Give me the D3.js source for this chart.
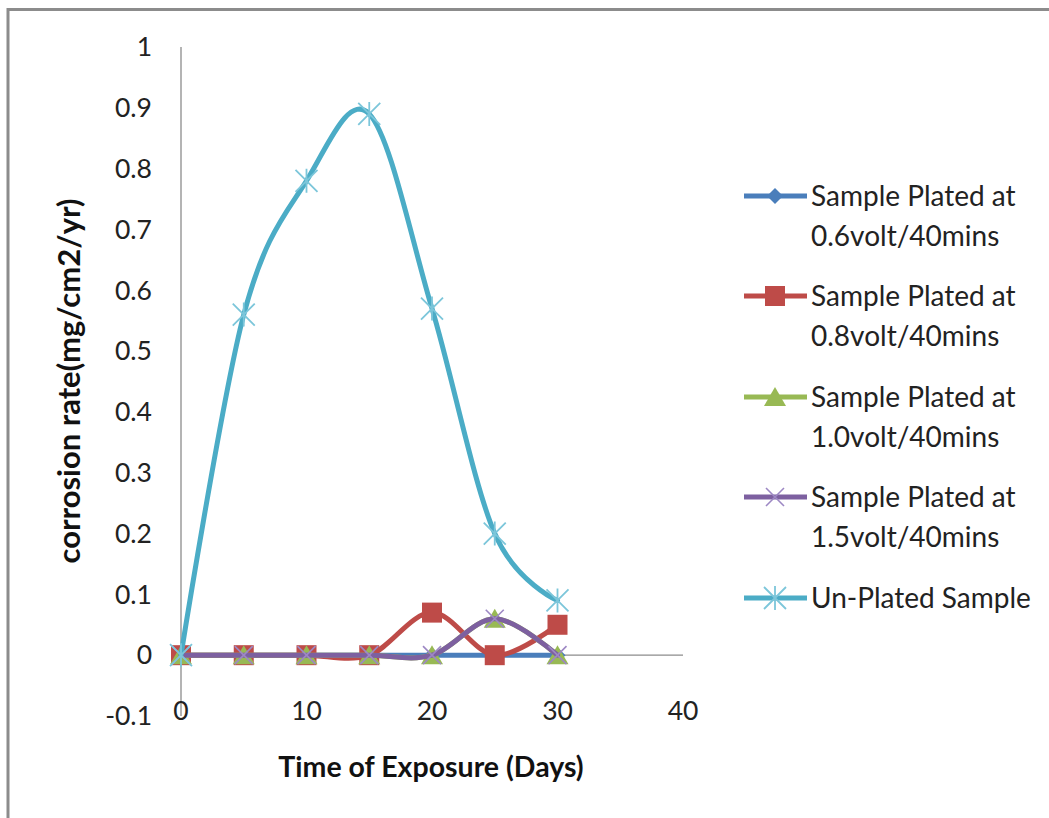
<!DOCTYPE html>
<html><head><meta charset="utf-8">
<script src="https://cdn.jsdelivr.net/npm/d3@7"></script>
<style>
html,body{margin:0;padding:0;background:#fff;}
svg{display:block;font-family:Lato, Carlito, "Open Sans", sans-serif;}
</style></head>
<body><svg id="chart" width="1049" height="818"></svg>
<script>
const days = [0, 5, 10, 15, 20, 25, 30];
const s06 = [0, 0, 0, 0, 0, 0, 0];
const s08 = [0, 0, 0, 0, 0.07, 0, 0.05];
const s10 = [0, 0, 0, 0, 0, 0.06, 0];
const s15 = [0, 0, 0, 0, 0, 0.06, 0];
const unplated = [0, 0.56, 0.78, 0.89, 0.57, 0.2, 0.09];
const xTicks = [0, 10, 20, 30, 40];
const yTicks = [-0.1, 0, 0.1, 0.2, 0.3, 0.4, 0.5, 0.6, 0.7, 0.8, 0.9, 1];
const seriesNames = [
  ["Sample Plated at", "0.6volt/40mins"],
  ["Sample Plated at", "0.8volt/40mins"],
  ["Sample Plated at", "1.0volt/40mins"],
  ["Sample Plated at", "1.5volt/40mins"],
  ["Un-Plated Sample"]
];

const series = [
  {vals: s06, color: "#4A7EBB", marker: "diamond"},
  {vals: s08, color: "#BE4B48", marker: "square"},
  {vals: s10, color: "#98B954", marker: "triangle"},
  {vals: s15, color: "#7D60A0", marker: "x"},
  {vals: unplated, color: "#4BACC6", marker: "star"}
];

const svg = d3.select("#chart");
// chart border (only left and top visible in the frame)
svg.append("rect").attr("x", 8).attr("y", 9.5).attr("width", 1100).attr("height", 900)
  .attr("fill", "#fff").attr("stroke", "#8c8c8c").attr("stroke-width", 3);

const x = d3.scaleLinear().domain([0, 40]).range([181, 683]);
const y = d3.scaleLinear().domain([-0.1, 1]).range([716, 47]);

// axes
svg.append("line").attr("x1", x(0)).attr("x2", x(0)).attr("y1", y(1)).attr("y2", y(-0.1))
  .attr("stroke", "#8c8c8c").attr("stroke-width", 1.3);
svg.append("line").attr("x1", x(0)).attr("x2", x(40)).attr("y1", y(0)).attr("y2", y(0))
  .attr("stroke", "#8c8c8c").attr("stroke-width", 1.3);

const fmt = d => (Math.round(d * 10) / 10).toString();
svg.append("g").selectAll("text").data(yTicks).join("text")
  .attr("x", 152).attr("y", d => y(d)).attr("dy", "0.35em")
  .attr("text-anchor", "end").attr("font-size", 26.5).attr("fill", "#222")
  .text(fmt);
svg.append("g").selectAll("text").data(xTicks).join("text")
  .attr("x", d => x(d)).attr("y", 720)
  .attr("text-anchor", "middle").attr("font-size", 26.5).attr("fill", "#222")
  .text(d => d);

svg.append("text").attr("x", 431).attr("y", 777).attr("text-anchor", "middle")
  .attr("font-size", 28.5).attr("font-weight", "bold").attr("fill", "#111")
  .text("Time of Exposure (Days)");
svg.append("text").attr("transform", "translate(80,381) rotate(-90)").attr("text-anchor", "middle")
  .attr("font-size", 31).attr("font-weight", "bold").attr("fill", "#111")
  .text("corrosion rate(mg/cm2/yr)");

function drawMarker(g, type, color, cx, cy) {
  if (type === "diamond") {
    g.append("path").attr("d", `M${cx},${cy-8}L${cx+8},${cy}L${cx},${cy+8}L${cx-8},${cy}Z`).attr("fill", color);
  } else if (type === "square") {
    g.append("rect").attr("x", cx - 10).attr("y", cy - 10).attr("width", 20).attr("height", 20).attr("fill", color);
  } else if (type === "triangle") {
    g.append("path").attr("d", `M${cx},${cy-10}L${cx+11},${cy+9}L${cx-11},${cy+9}Z`).attr("fill", color);
  } else if (type === "x") {
    g.append("path").attr("d", `M${cx-9},${cy-9}L${cx+9},${cy+9}M${cx-9},${cy+9}L${cx+9},${cy-9}`)
      .attr("stroke", "#9d88c4").attr("stroke-width", 1.6).attr("fill", "none");
  } else if (type === "star") {
    g.append("path").attr("d", `M${cx-11},${cy-11}L${cx+11},${cy+11}M${cx-11},${cy+11}L${cx+11},${cy-11}M${cx},${cy-12}L${cx},${cy+12}`)
      .attr("stroke", "#7cc6da").attr("stroke-width", 1.8).attr("fill", "none");
  }
}

const line = d3.line().x(d => x(d[0])).y(d => y(d[1])).curve(d3.curveCatmullRom.alpha(0));
const plot = svg.append("g");
series.forEach(s => {
  const g = plot.append("g");
  const pts = days.map((d, i) => [d, s.vals[i]]);
  g.append("path").attr("d", line(pts)).attr("fill", "none").attr("stroke", s.color)
    .attr("stroke-width", 5).attr("stroke-linejoin", "round").attr("stroke-linecap", "round");
  pts.forEach(p => drawMarker(g, s.marker, s.color, x(p[0]), y(p[1])));
});

// legend
const legY = [196, 296, 397, 497, 598];
const leg = svg.append("g");
series.forEach((s, i) => {
  const g = leg.append("g");
  g.append("line").attr("x1", 744).attr("x2", 807).attr("y1", legY[i]).attr("y2", legY[i])
    .attr("stroke", s.color).attr("stroke-width", 5);
  drawMarker(g, s.marker, s.color, 775, legY[i]);
  seriesNames[i].forEach((t, j) => {
    g.append("text").attr("x", 811).attr("y", legY[i] + j * 40).attr("dy", "0.35em")
      .attr("font-size", 28).attr("fill", "#222").text(t);
  });
});
</script></body></html>
